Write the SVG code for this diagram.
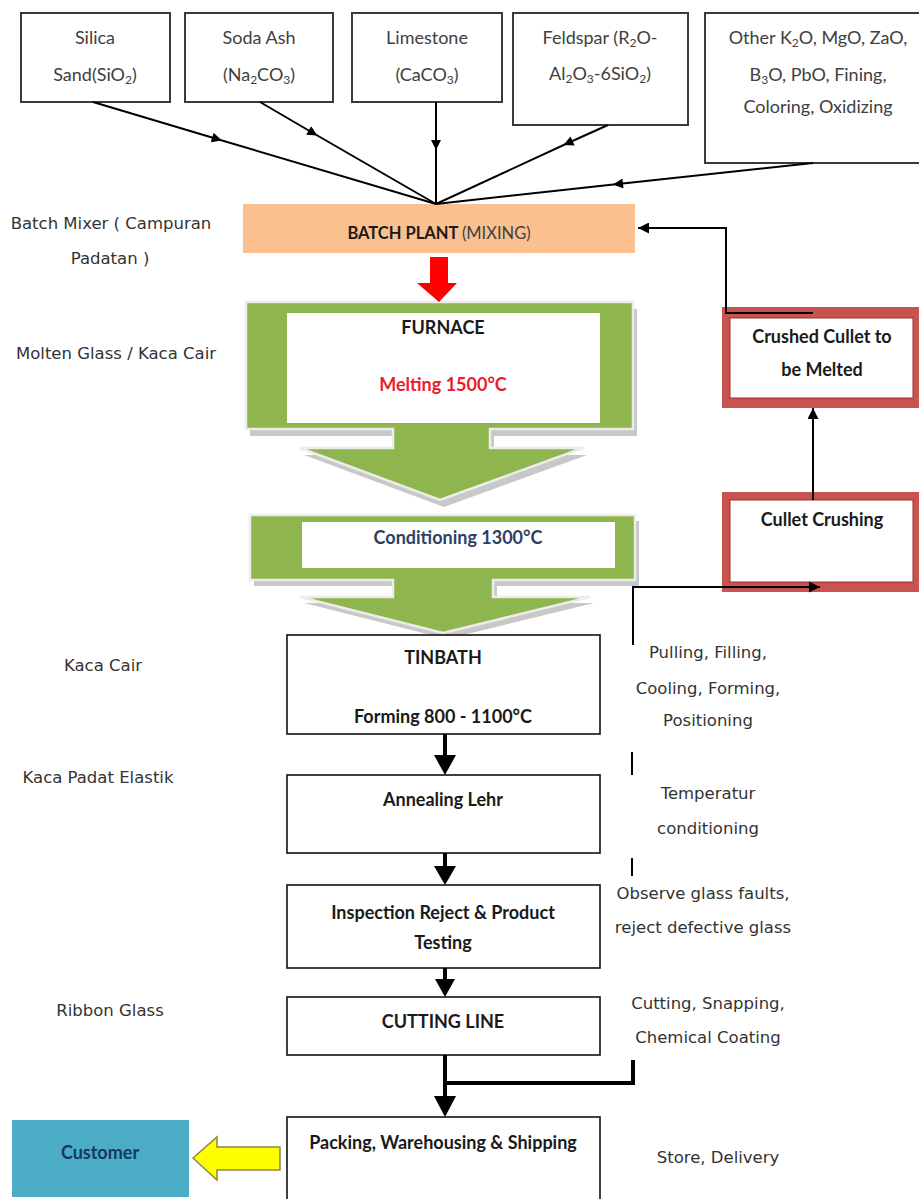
<svg xmlns="http://www.w3.org/2000/svg" width="919" height="1199" viewBox="0 0 919 1199">
<style>
.box{fill:#fff;stroke:#3a3a3a;stroke-width:2}
.nb{fill:#fff;stroke:#111;stroke-width:1.6}
.t{font-family:Lato,"Liberation Sans",sans-serif;font-size:18px;fill:#404040;text-anchor:middle}
.b{font-family:Lato,"Liberation Sans",sans-serif;font-weight:bold;font-size:18px;fill:#1a1a1a;text-anchor:middle}
.c{font-family:"DejaVu Sans","Liberation Sans",sans-serif;font-size:16.5px;fill:#333;text-anchor:middle}
.s{font-size:12px}
.ln{stroke:#000;stroke-width:2;fill:none}
.thk{stroke:#000;stroke-width:4;fill:none}
.red{fill:#C9534F}
</style>
<defs>
<marker id="mid" viewBox="0 0 10 10" refX="5" refY="5" markerWidth="13" markerHeight="10" markerUnits="userSpaceOnUse" orient="auto"><path d="M0,0 L10,5 L0,10 z" fill="#000"/></marker>
<marker id="ah" viewBox="0 0 10 10" refX="10" refY="5" markerWidth="14" markerHeight="11" markerUnits="userSpaceOnUse" orient="auto"><path d="M0,0 L10,5 L0,10 z" fill="#000"/></marker>
</defs>

<g id="silica"><rect class="box" x="21" y="13" width="149" height="89"/>
<text class="t" x="95" y="44">Silica</text>
<text class="t" x="95" y="81">Sand(SiO<tspan class="s" dy="3">2</tspan><tspan dy="-3">)</tspan></text></g>

<g id="soda"><rect class="box" x="185" y="13" width="148" height="89"/>
<text class="t" x="259" y="44">Soda Ash</text>
<text class="t" x="259" y="81">(Na<tspan class="s" dy="3">2</tspan><tspan dy="-3">CO</tspan><tspan class="s" dy="3">3</tspan><tspan dy="-3">)</tspan></text></g>

<g id="limestone"><rect class="box" x="352" y="13" width="150" height="89"/>
<text class="t" x="427" y="44">Limestone</text>
<text class="t" x="427" y="81">(CaCO<tspan class="s" dy="3">3</tspan><tspan dy="-3">)</tspan></text></g>

<g id="feldspar"><rect class="box" x="513" y="13" width="175" height="112"/>
<text class="t" x="600" y="44">Feldspar (R<tspan class="s" dy="3">2</tspan><tspan dy="-3">O-</tspan></text>
<text class="t" x="600" y="80">Al<tspan class="s" dy="3">2</tspan><tspan dy="-3">O</tspan><tspan class="s" dy="3">3</tspan><tspan dy="-3">-6SiO</tspan><tspan class="s" dy="3">2</tspan><tspan dy="-3">)</tspan></text></g>

<g id="other"><rect class="box" x="705" y="13" width="220" height="150"/>
<text class="t" x="818" y="44">Other K<tspan class="s" dy="3">2</tspan><tspan dy="-3">O, MgO, ZaO,</tspan></text>
<text class="t" x="818" y="81">B<tspan class="s" dy="3">3</tspan><tspan dy="-3">O, PbO, Fining,</tspan></text>
<text class="t" x="818" y="113">Coloring, Oxidizing</text></g>

<g id="batch-plant"><rect x="243" y="204" width="392" height="49" fill="#FAC08F"/>
<text class="b" x="439" y="239" style="font-size:16.5px">BATCH PLANT <tspan style="font-weight:normal;fill:#404040">(MIXING)</tspan></text></g>

<g id="furnace">
<path d="M250,309 H637 V436 H494 V455 H587 L444,507 L304,455 H397 V436 H250 Z" fill="#c8c8c8"/>
<path d="M246,302 H633 V429 H490 V448 H583 L440,500 L300,448 H393 V429 H246 Z" fill="#8FB54F" stroke="#ececec" stroke-width="2.5"/>
<rect x="287" y="313" width="313" height="110" fill="#fff"/>
<text class="b" x="443" y="334">FURNACE</text>
<text class="b" x="443" y="391" style="fill:#E8202A">Melting 1500°C</text></g>

<g id="conditioning">
<path d="M254,521 H639 V586 H497 V603 H594 L447,639 L304,603 H397 V586 H254 Z" fill="#c8c8c8"/>
<path d="M250,515 H635 V580 H493 V597 H590 L443,633 L300,597 H393 V580 H250 Z" fill="#8FB54F" stroke="#ececec" stroke-width="2.5"/>
<rect x="302" y="522" width="313" height="46" fill="#fff"/>
<text class="b" x="458" y="544" style="fill:#2E3F66">Conditioning 1300°C</text></g>

<g id="tinbath"><rect class="nb" x="287" y="635" width="313" height="99"/>
<text class="b" x="443" y="664">TINBATH</text>
<text class="b" x="443" y="723">Forming 800 - 1100°C</text></g>

<g id="annealing"><rect class="nb" x="287" y="775" width="313" height="78"/>
<text class="b" x="443" y="806">Annealing Lehr</text></g>

<g id="inspection"><rect class="nb" x="287" y="885" width="313" height="83"/>
<text class="b" x="443" y="919">Inspection Reject &amp; Product</text>
<text class="b" x="443" y="949">Testing</text></g>

<g id="cutting"><rect class="nb" x="287" y="997" width="313" height="58"/>
<text class="b" x="443" y="1028">CUTTING LINE</text></g>

<g id="packing"><rect class="nb" x="287" y="1117" width="313" height="84"/>
<text class="b" x="443" y="1149">Packing, Warehousing &amp; Shipping</text></g>

<g id="customer"><rect x="12" y="1120" width="177" height="77" fill="#4BACC6"/>
<text class="b" x="100" y="1159" style="fill:#17375E">Customer</text></g>

<g id="crushed-cullet"><rect class="red" x="722" y="307" width="205" height="101"/>
<rect x="730" y="318" width="183" height="80" fill="#fff" stroke="#9c2f2c" stroke-width="1"/>
<text class="b" x="822" y="343">Crushed Cullet to</text>
<text class="b" x="822" y="376">be Melted</text></g>

<g id="cullet-crushing"><rect class="red" x="722" y="492" width="205" height="100"/>
<rect x="730" y="500" width="183" height="82" fill="#fff" stroke="#9c2f2c" stroke-width="1"/>
<text class="b" x="822" y="526">Cullet Crushing</text></g>

<g id="labels">
<text class="c" x="111" y="229">Batch Mixer ( Campuran</text>
<text class="c" x="110" y="264">Padatan )</text>
<text class="c" x="116" y="359">Molten Glass / Kaca Cair</text>
<text class="c" x="103" y="671">Kaca Cair</text>
<text class="c" x="98" y="783">Kaca Padat Elastik</text>
<text class="c" x="110" y="1016">Ribbon Glass</text>
<text class="c" x="708" y="658">Pulling, Filling,</text>
<text class="c" x="708" y="694">Cooling, Forming,</text>
<text class="c" x="708" y="726">Positioning</text>
<text class="c" x="708" y="799">Temperatur</text>
<text class="c" x="708" y="834">conditioning</text>
<text class="c" x="703" y="899">Observe glass faults,</text>
<text class="c" x="703" y="933">reject defective glass</text>
<text class="c" x="708" y="1009">Cutting, Snapping,</text>
<text class="c" x="708" y="1043">Chemical Coating</text>
<text class="c" x="718" y="1163">Store, Delivery</text>
</g>

<g id="connectors">
<path class="ln" marker-mid="url(#mid)" d="M93,102 L217,139 L436,204"/>
<path class="ln" marker-mid="url(#mid)" d="M260,102 L313,133 L436,204"/>
<path class="ln" marker-mid="url(#mid)" d="M436,102 L436,145 L436,204"/>
<path class="ln" marker-mid="url(#mid)" d="M608,125 L568,143 L436,204"/>
<path class="ln" marker-mid="url(#mid)" d="M813,163 L618,184 L436,204"/>
<path class="ln" stroke-width="3" marker-end="url(#ah)" d="M813,313 H726 V228 H638"/>
<path class="ln" stroke-width="3" marker-end="url(#ah)" d="M813,500 V408"/>
<path class="ln" stroke-width="3" marker-end="url(#ah)" d="M633,645 V587 H820"/>
<path class="ln" stroke-width="3" d="M632,752 V775 M632,858 V876"/>
<path class="thk" d="M445,734 V757 M445,853 V868 M445,968 V981 M445,1055 V1098 M633,1060 V1083 H445"/>
<polygon points="434,755 456,755 445,775"/>
<polygon points="434,866 456,866 445,885"/>
<polygon points="435,979 455,979 445,997"/>
<polygon points="434,1096 456,1096 445,1117"/>
<path d="M430,257 H448 V283 H457 L439,302 L417,283 H430 Z" fill="#FF0000"/>
<polygon points="193,1158 217,1137 217,1147 280,1147 280,1170 217,1170 217,1180" fill="#FFFF00" stroke="#8a8a40" stroke-width="1.5"/>
</g>
</svg>
